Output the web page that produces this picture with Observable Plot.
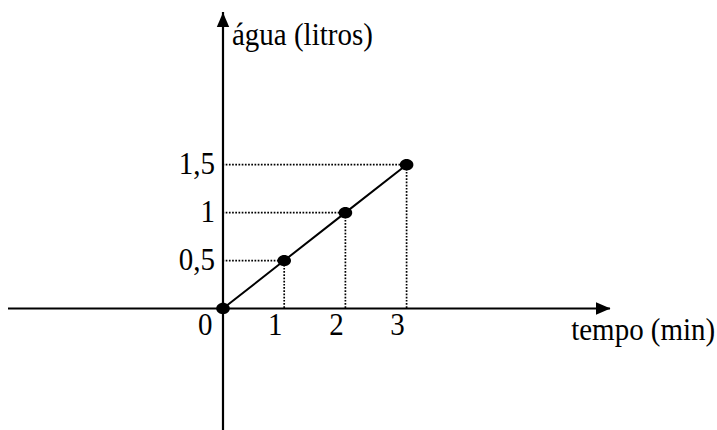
<!DOCTYPE html>
<html>
<head>
<meta charset="utf-8">
<script src="https://cdn.jsdelivr.net/npm/d3@7"></script>
<script src="https://cdn.jsdelivr.net/npm/@observablehq/plot@0.6"></script>
<style>
  html, body { margin: 0; padding: 0; background: #fff; }
  #chart svg { display: block; }
</style>
</head>
<body>
<div id="chart"></div>
<script>
// Volume of water (litres) against time (minutes)
const tempo = [0, 1, 2, 3];
const agua = [0, 0.5, 1, 1.5];

// Tick values written next to the dotted guides
const xTickValues = [1, 2, 3];
const yTickValues = [0.5, 1, 1.5];
const originLabel = ["0"];

// Axis titles
const xTitle = ["tempo (min)"];
const yTitle = ["água (litros)"];

// How far each axis line reaches, in data units
const xExtent = [-3.505, 6.332];
const yExtent = [-1.272, 3.087];

const points = tempo.map((t, i) => ({t, v: agua[i]}));
const guides = points.filter(d => d.v > 0);
const decimal = d => String(d).replace(".", ",");

const font = '"Liberation Serif", "Times New Roman", serif';
const fontSize = 29;

// Filled arrowhead with its tip at the symbol origin, pointing up
const arrowHead = {
  draw(context) {
    context.moveTo(0, 0);
    context.lineTo(-6.2, 14.5);
    context.lineTo(6.2, 14.5);
    context.closePath();
  }
};

// Slightly flattened dot
const oval = {
  draw(context) {
    const rx = 6.8, ry = 5.7, k = 0.5523;
    context.moveTo(rx, 0);
    context.bezierCurveTo(rx, k * ry, k * rx, ry, 0, ry);
    context.bezierCurveTo(-k * rx, ry, -rx, k * ry, -rx, 0);
    context.bezierCurveTo(-rx, -k * ry, -k * rx, -ry, 0, -ry);
    context.bezierCurveTo(k * rx, -ry, rx, -k * ry, rx, 0);
    context.closePath();
  }
};

const textStyle = {fontSize, fontFamily: font, fill: "#000", className: "tall"};

const chart = Plot.plot({
  width: 717,
  height: 430,
  marginLeft: 8,
  marginRight: 107,
  marginTop: 12,
  marginBottom: 0,
  style: {background: "#fff", color: "#000", fontFamily: font},
  x: {domain: xExtent, axis: null},
  y: {domain: yExtent, axis: null},
  marks: [
    // axes
    Plot.ruleY([0], {stroke: "#000", strokeWidth: 2.2}),
    Plot.ruleX([0], {stroke: "#000", strokeWidth: 2.2}),
    Plot.dot([xExtent[1]], {x: d => d, y: 0, symbol: arrowHead, r: 7, fill: "#000", stroke: null, rotate: 90}),
    Plot.dot([yExtent[1]], {x: 0, y: d => d, symbol: arrowHead, r: 7, fill: "#000", stroke: null}),
    // dotted guides to the axes
    Plot.ruleX(guides, {x: "t", y1: 0, y2: "v", stroke: "#000", strokeWidth: 1.7, strokeDasharray: "1.7,1.5"}),
    Plot.ruleY(guides, {y: "v", x1: 0, x2: "t", stroke: "#000", strokeWidth: 1.7, strokeDasharray: "1.7,1.5"}),
    // data
    Plot.line(points, {x: "t", y: "v", stroke: "#000", strokeWidth: 2}),
    Plot.dot(points, {x: "t", y: "v", symbol: oval, r: 6, fill: "#000", stroke: null}),
    // tick labels
    Plot.text(xTickValues, {x: d => d, y: 0, text: decimal, dx: -9, dy: 26, lineAnchor: "bottom", textAnchor: "middle", ...textStyle}),
    Plot.text(yTickValues, {x: 0, y: d => d, text: decimal, dx: -8, dy: -1, textAnchor: "end", lineAnchor: "middle", ...textStyle}),
    Plot.text(originLabel, {x: 0, y: 0, text: d => d, dx: -10.5, dy: 26, textAnchor: "end", lineAnchor: "bottom", ...textStyle}),
    // axis titles
    Plot.text(xTitle, {x: xExtent[1], y: 0, text: d => d, dx: -39.3, dy: 31, textAnchor: "start", lineAnchor: "bottom", ...textStyle}),
    Plot.text(yTitle, {x: 0, y: yExtent[1], text: d => d, dx: 9, dy: 32.5, textAnchor: "start", lineAnchor: "bottom", ...textStyle})
  ]
});

// The lettering is drawn a little taller than wide
chart.querySelectorAll("g.tall text").forEach(t => {
  const tr = t.getAttribute("transform") || "";
  t.setAttribute("transform", tr + " scale(1,1.12)");
});

document.getElementById("chart").appendChild(chart);
</script>
</body>
</html>
